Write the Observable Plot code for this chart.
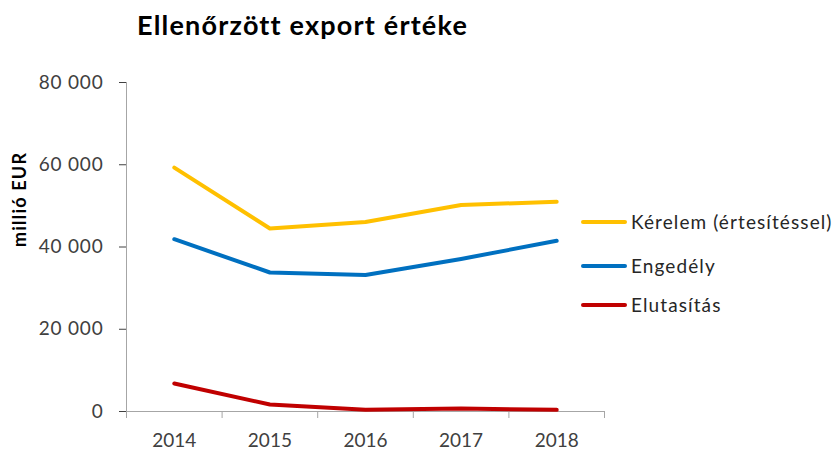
<!DOCTYPE html>
<html><head><meta charset="utf-8">
<script src="https://cdn.jsdelivr.net/npm/d3@7"></script>
<script src="https://cdn.jsdelivr.net/npm/@observablehq/plot@0.6"></script>
<style>
body{margin:0;background:#fff;}
#wrap{position:relative;width:837px;height:450px;font-family:Lato,sans-serif;}
#title{position:absolute;left:137px;top:11px;font-weight:bold;font-size:27px;line-height:27px;letter-spacing:1.2px;color:#000;white-space:nowrap}
.leg{position:absolute;left:581px;display:flex;align-items:center;font-size:19px;line-height:24px;letter-spacing:1.1px;color:#262626;white-space:nowrap}
.sw{width:46px;height:4px;margin-right:4px;border-radius:2px}
#chart{position:absolute;left:0;top:0}
#chart g[font-weight="bold"] text{letter-spacing:1.2px}
#chart g[aria-label="y-axis"] text, #chart g[aria-label="y-axis tick label"] text{letter-spacing:0.8px}
</style></head>
<body>
<div id="wrap">
<div id="chart"></div>
<div id="title"></div>
<div id="legend"></div>
</div>
<script>
const title = "Ellenőrzött export értéke";
const yLabel = "millió EUR";
const years = [2014, 2015, 2016, 2017, 2018];
const seriesNames = ["Kérelem (értesítéssel)", "Engedély", "Elutasítás"];
const seriesColors = ["#FFC000", "#0070C0", "#C00000"];
const kerelem = [59300, 44500, 46100, 50200, 51000];
const engedely = [41900, 33800, 33200, 37100, 41500];
const elutasitas = [6800, 1700, 400, 700, 400];
const yTicks = [0, 20000, 40000, 60000, 80000];

const seriesValues = [kerelem, engedely, elutasitas];
const data = [];
seriesNames.forEach((s, si) => years.forEach((yr, i) => data.push({series: s, year: yr, value: seriesValues[si][i]})));
const bounds = [years[0] - 0.5, ...years.map(y => y + 0.5)];
const axisColor = "#a6a6a6";
const fmt = d => d3.format(",")(d).replace(/,/g, " ");

const chart = Plot.plot({
  width: 837, height: 450,
  marginLeft: 126, marginRight: 233, marginTop: 82, marginBottom: 39,
  style: {fontFamily: "Lato, sans-serif", fontSize: "19px", color: "#404040", background: "#fff"},
  x: {type: "linear", domain: [bounds[0], bounds[bounds.length - 1]], ticks: years, tickFormat: d => String(d), tickSize: 0, tickPadding: 22, label: null},
  y: {domain: [0, 80000], ticks: yTicks, tickFormat: fmt, tickSize: 7, tickPadding: 16, label: null},
  color: {domain: seriesNames, range: seriesColors},
  marks: [
    Plot.ruleX([bounds[0]], {y1: 0, y2: 80000, stroke: axisColor}),
    Plot.ruleY([0], {x1: bounds[0], x2: bounds[bounds.length - 1], stroke: axisColor}),
    Plot.ruleX(bounds, {y1: 0, y2: 0, insetBottom: -7, stroke: axisColor}),
    Plot.line(data, {x: "year", y: "value", z: "series", stroke: "series", strokeWidth: 4, strokeLinejoin: "round", strokeLinecap: "round"}),
    Plot.text([yLabel], {frameAnchor: "left", rotate: -90, dx: -106, fontWeight: "bold", fontSize: 18, fill: "#000"})
  ]
});
document.getElementById("chart").appendChild(chart);
document.getElementById("title").textContent = title;
const legTops = [210, 254, 293];
const leg = document.getElementById("legend");
seriesNames.forEach((s, i) => {
  const row = document.createElement("div");
  row.className = "leg";
  row.style.top = legTops[i] + "px";
  const sw = document.createElement("span");
  sw.className = "sw";
  sw.style.background = seriesColors[i];
  const t = document.createElement("span");
  t.textContent = s;
  row.appendChild(sw); row.appendChild(t);
  leg.appendChild(row);
});
</script>
</body></html>
